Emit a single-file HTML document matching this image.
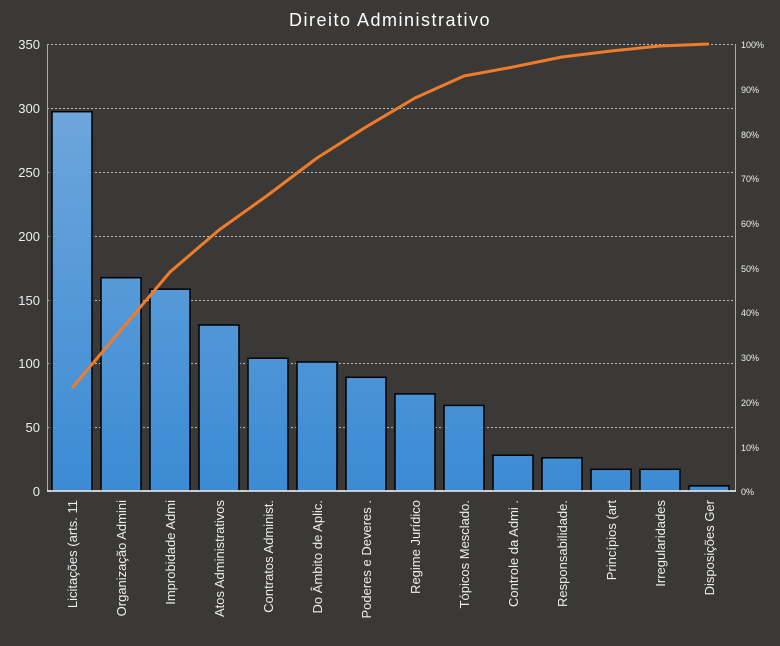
<!DOCTYPE html>
<html><head><meta charset="utf-8"><style>body{margin:0;background:#3a3937}</style></head><body>
<svg width="780" height="641" xmlns="http://www.w3.org/2000/svg" font-family="Liberation Sans, DejaVu Sans, sans-serif">
<defs><linearGradient id="g" gradientUnits="userSpaceOnUse" x1="0" y1="44" x2="0" y2="491"><stop offset="0" stop-color="#76aadd"/><stop offset="1" stop-color="#3b8bd4"/></linearGradient></defs>
<rect width="780" height="641" fill="#3a3937"/>
<text x="390" y="26" fill="#fff" font-size="18" text-anchor="middle" letter-spacing="1.5">Direito Administrativo</text>
<g stroke="#bbb" stroke-width="1" stroke-dasharray="2,2">
<line x1="47" y1="44.5" x2="736" y2="44.5"/><line x1="47" y1="108.5" x2="736" y2="108.5"/><line x1="47" y1="172.5" x2="736" y2="172.5"/><line x1="47" y1="236.5" x2="736" y2="236.5"/><line x1="47" y1="300.5" x2="736" y2="300.5"/><line x1="47" y1="363.5" x2="736" y2="363.5"/><line x1="47" y1="427.5" x2="736" y2="427.5"/>
</g>
<line x1="47.5" y1="44" x2="47.5" y2="491" stroke="#aaa"/>
<line x1="735.5" y1="44" x2="735.5" y2="491" stroke="#aaa"/>
<g fill="#eee" font-size="13" text-anchor="end">
<text x="40" y="49">350</text><text x="40" y="113">300</text><text x="40" y="177">250</text><text x="40" y="241">200</text><text x="40" y="305">150</text><text x="40" y="368">100</text><text x="40" y="432">50</text><text x="40" y="496">0</text>
</g>
<g fill="#eee" font-size="9">
<text x="741" y="48">100%</text><text x="741" y="93">90%</text><text x="741" y="138">80%</text><text x="741" y="182">70%</text><text x="741" y="227">60%</text><text x="741" y="272">50%</text><text x="741" y="316">40%</text><text x="741" y="361">30%</text><text x="741" y="406">20%</text><text x="741" y="451">10%</text><text x="741" y="495">0%</text>
</g>
<g fill="url(#g)" stroke="#000" stroke-width="1.5">
<rect x="52" y="111.7" width="40" height="379.3"/>
<rect x="101" y="277.7" width="40" height="213.3"/>
<rect x="150" y="289.2" width="40" height="201.8"/>
<rect x="199" y="325" width="40" height="166"/>
<rect x="248" y="358.2" width="40" height="132.8"/>
<rect x="297" y="362" width="40" height="129"/>
<rect x="346" y="377.3" width="40" height="113.7"/>
<rect x="395" y="393.9" width="40" height="97.1"/>
<rect x="444" y="405.4" width="40" height="85.6"/>
<rect x="493" y="455.2" width="40" height="35.8"/>
<rect x="542" y="457.8" width="40" height="33.2"/>
<rect x="591" y="469.3" width="40" height="21.7"/>
<rect x="640" y="469.3" width="40" height="21.7"/>
<rect x="689" y="485.9" width="40" height="5.1"/>
</g>
<line x1="47" y1="491" x2="736" y2="491" stroke="#fff" stroke-width="1.5"/>
<polyline fill="none" stroke="#f07c2a" stroke-width="3" stroke-linejoin="round" points="72,388 121,330 170,272 219,230 268,195 317,158 366,127 415,98 464,76 513,67 562,57 611,51 660,46 709,44"/>
<g fill="#eee" font-size="13" text-anchor="end">
<text transform="translate(77,500) rotate(-90)">Licitações (arts. 11</text>
<text transform="translate(126,500) rotate(-90)">Organização Admini</text>
<text transform="translate(175,500) rotate(-90)">Improbidade Admi</text>
<text transform="translate(224,500) rotate(-90)">Atos Administrativos</text>
<text transform="translate(273,500) rotate(-90)">Contratos Administ.</text>
<text transform="translate(322,500) rotate(-90)">Do Âmbito de Aplic.</text>
<text transform="translate(371,500) rotate(-90)">Poderes e Deveres .</text>
<text transform="translate(420,500) rotate(-90)">Regime Jurídico</text>
<text transform="translate(469,500) rotate(-90)">Tópicos Mesclado.</text>
<text transform="translate(518,500) rotate(-90)">Controle da Admi .</text>
<text transform="translate(567,500) rotate(-90)">Responsabilidade.</text>
<text transform="translate(616,500) rotate(-90)">Princípios (art</text>
<text transform="translate(665,500) rotate(-90)">Irregularidades</text>
<text transform="translate(714,500) rotate(-90)">Disposições Ger</text>
</g>
</svg>
</body></html>
